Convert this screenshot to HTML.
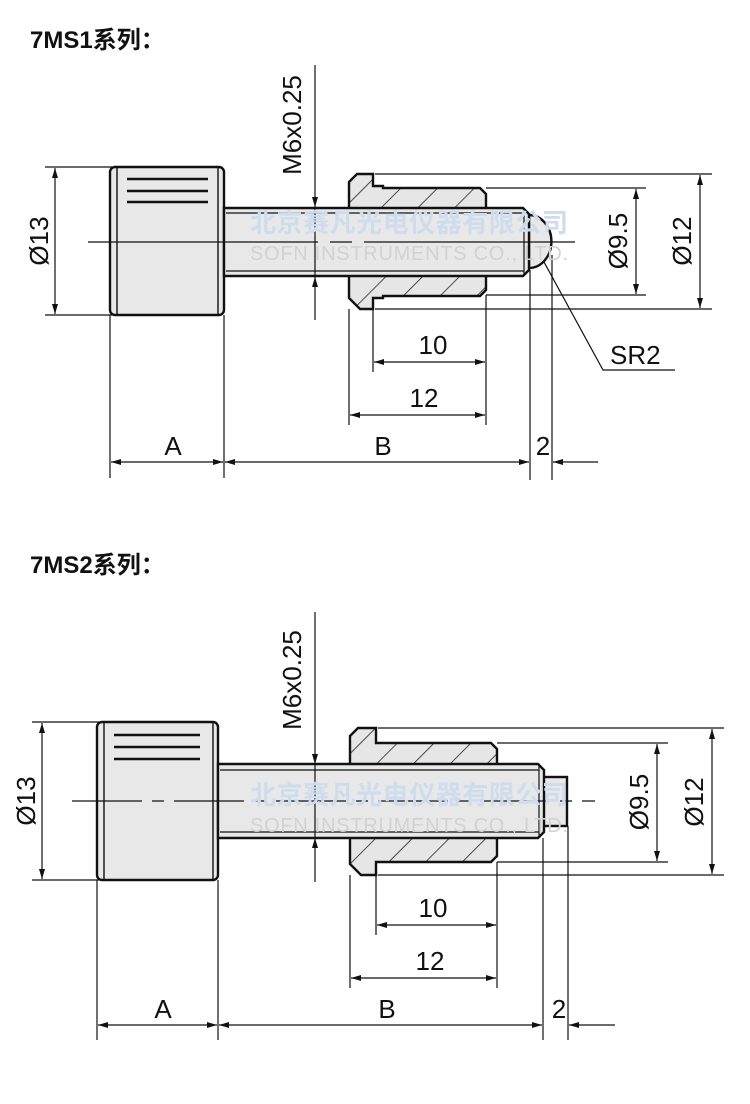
<!DOCTYPE html>
<html><head><meta charset="utf-8"><style>
html,body{margin:0;padding:0;background:#fff;}
svg{display:block;}
text{font-family:"Liberation Sans","Noto Sans CJK SC",sans-serif;fill:#111;}
</style></head><body>
<svg width="750" height="1104" viewBox="0 0 750 1104" xmlns="http://www.w3.org/2000/svg">
<defs>
<marker id="a" viewBox="0 0 10 6" refX="10" refY="3" markerWidth="11" markerHeight="6" orient="auto-start-reverse" markerUnits="userSpaceOnUse">
<path d="M0,0 L10,3 L0,6 Z" fill="#111"/></marker>
<pattern id="h" width="26" height="26" patternUnits="userSpaceOnUse" patternTransform="rotate(45)">
<rect width="26" height="26" fill="#e6e6e6"/><line x1="0" y1="0" x2="0" y2="26" stroke="#222" stroke-width="1.6"/></pattern>
</defs>

<text x="30" y="48" font-size="24" font-weight="bold">7MS1系列：</text>
<text x="30" y="573" font-size="24" font-weight="bold">7MS2系列：</text>

<!-- ===== Drawing 1 ===== -->
<g stroke="#111" fill="none" stroke-width="1.2">
<line x1="45" y1="167" x2="112" y2="167"/><line x1="45" y1="315" x2="112" y2="315"/>
<line x1="375" y1="174" x2="712" y2="174"/><line x1="375" y1="309" x2="712" y2="309"/>
<line x1="486" y1="188" x2="646" y2="188"/><line x1="486" y1="295" x2="646" y2="295"/>
<line x1="110" y1="315" x2="110" y2="478"/><line x1="224" y1="315" x2="224" y2="478"/>
<line x1="349" y1="309" x2="349" y2="425"/><line x1="373" y1="309" x2="373" y2="372"/>
<line x1="486" y1="295" x2="486" y2="425"/>
<line x1="530" y1="270" x2="530" y2="480"/><line x1="552" y1="255" x2="552" y2="480"/>
<line x1="55" y1="168" x2="55" y2="314" marker-start="url(#a)" marker-end="url(#a)"/>
<line x1="636" y1="189" x2="636" y2="294" marker-start="url(#a)" marker-end="url(#a)"/>
<line x1="700" y1="175" x2="700" y2="308" marker-start="url(#a)" marker-end="url(#a)"/>
<line x1="374" y1="362" x2="485" y2="362" marker-start="url(#a)" marker-end="url(#a)"/>
<line x1="350" y1="415" x2="485" y2="415" marker-start="url(#a)" marker-end="url(#a)"/>
<line x1="111" y1="462" x2="223" y2="462" marker-start="url(#a)" marker-end="url(#a)"/>
<line x1="225" y1="462" x2="529" y2="462" marker-start="url(#a)" marker-end="url(#a)"/>
<line x1="598" y1="462" x2="553" y2="462" marker-end="url(#a)"/>
<line x1="315" y1="65" x2="315" y2="207" marker-end="url(#a)"/>
<line x1="315" y1="320" x2="315" y2="277" marker-end="url(#a)"/>
<polyline points="532,240 603,370 675,370"/>
</g>
<g stroke="#111" stroke-width="2.4">
<rect x="110" y="167" width="114" height="148" rx="5" fill="#e8e8e8"/>
<line x1="117" y1="168" x2="117" y2="314" stroke-width="1.4"/><line x1="218" y1="168" x2="218" y2="314" stroke-width="1.4"/>
<line x1="127" y1="179" x2="208" y2="179"/><line x1="127" y1="191" x2="208" y2="191"/><line x1="127" y1="202" x2="208" y2="202"/>
<path d="M529,215 A22,26 0 0 1 529,268 Z" fill="#e8e8e8"/>
<path d="M357,174 L373,174 L373,186 L383,186 L383,188 L480,188 L486,194 L486,290 L480,296 L383,296 L383,298 L373,298 L373,309 L360,309 L349,298 L349,182 Z" fill="url(#h)"/>
<path d="M224,208 L523,208 L529,214 L529,270 L523,276 L224,276 Z" fill="#e8e8e8"/>
<line x1="226" y1="213" x2="524" y2="213" stroke-width="1.2"/><line x1="226" y1="271" x2="524" y2="271" stroke-width="1.2"/>
<line x1="524" y1="209" x2="524" y2="275" stroke-width="1.2"/>
</g>
<line x1="315" y1="207" x2="315" y2="277" stroke="#111" stroke-width="1.2"/>
<line x1="88" y1="242" x2="575" y2="242" stroke="#111" stroke-width="1.2" stroke-dasharray="230,12,22,12"/>
<text x="250" y="232" font-size="26" textLength="318" style="fill:#cfdcee" font-weight="bold">北京赛凡光电仪器有限公司</text>
<text x="250" y="260" font-size="20" textLength="318" style="fill:#d2d2d2">SOFN INSTRUMENTS CO., LTD.</text>

<g font-size="26">
<text transform="translate(48,241) rotate(-90)" text-anchor="middle">Ø13</text>
<text transform="translate(301,125) rotate(-90)" text-anchor="middle">M6x0.25</text>
<text transform="translate(627,241) rotate(-90)" text-anchor="middle">Ø9.5</text>
<text transform="translate(691,241) rotate(-90)" text-anchor="middle">Ø12</text>
<text x="433" y="354" text-anchor="middle">10</text>
<text x="424" y="407" text-anchor="middle">12</text>
<text x="173" y="455" text-anchor="middle">A</text>
<text x="383" y="455" text-anchor="middle">B</text>
<text x="543" y="455" text-anchor="middle">2</text>
<text x="610" y="364">SR2</text>
</g>

<!-- ===== Drawing 2 ===== -->
<g stroke="#111" fill="none" stroke-width="1.2">
<line x1="32" y1="722" x2="99" y2="722"/><line x1="32" y1="880" x2="99" y2="880"/>
<line x1="378" y1="728" x2="724" y2="728"/><line x1="378" y1="875" x2="724" y2="875"/>
<line x1="497" y1="743" x2="668" y2="743"/><line x1="497" y1="862" x2="668" y2="862"/>
<line x1="97" y1="880" x2="97" y2="1040"/><line x1="218" y1="880" x2="218" y2="1040"/>
<line x1="350" y1="875" x2="350" y2="988"/><line x1="376" y1="875" x2="376" y2="935"/>
<line x1="497" y1="862" x2="497" y2="988"/>
<line x1="543" y1="838" x2="543" y2="1040"/><line x1="568" y1="826" x2="568" y2="1040"/>
<line x1="42" y1="723" x2="42" y2="879" marker-start="url(#a)" marker-end="url(#a)"/>
<line x1="657" y1="744" x2="657" y2="861" marker-start="url(#a)" marker-end="url(#a)"/>
<line x1="712" y1="729" x2="712" y2="874" marker-start="url(#a)" marker-end="url(#a)"/>
<line x1="377" y1="925" x2="496" y2="925" marker-start="url(#a)" marker-end="url(#a)"/>
<line x1="351" y1="978" x2="496" y2="978" marker-start="url(#a)" marker-end="url(#a)"/>
<line x1="98" y1="1025" x2="217" y2="1025" marker-start="url(#a)" marker-end="url(#a)"/>
<line x1="219" y1="1025" x2="542" y2="1025" marker-start="url(#a)" marker-end="url(#a)"/>
<line x1="615" y1="1025" x2="569" y2="1025" marker-end="url(#a)"/>
<line x1="315" y1="612" x2="315" y2="764" marker-end="url(#a)"/>
<line x1="315" y1="882" x2="315" y2="838" marker-end="url(#a)"/>
</g>
<g stroke="#111" stroke-width="2.4">
<rect x="97" y="722" width="121" height="158" rx="5" fill="#e8e8e8"/>
<line x1="104" y1="723" x2="104" y2="879" stroke-width="1.4"/><line x1="213" y1="723" x2="213" y2="879" stroke-width="1.4"/>
<line x1="114" y1="735" x2="200" y2="735"/><line x1="114" y1="747" x2="200" y2="747"/><line x1="114" y1="759" x2="200" y2="759"/>
<rect x="543" y="777" width="24" height="49" fill="#e8e8e8"/>
<path d="M358,728 L376,728 L376,743 L387,743 L491,743 L497,749 L497,856 L491,862 L387,862 L376,862 L376,875 L361,875 L350,864 L350,736 Z" fill="url(#h)"/>
<path d="M218,764 L538,764 L544,770 L544,832 L538,838 L218,838 Z" fill="#e8e8e8"/>
<line x1="220" y1="770" x2="539" y2="770" stroke-width="1.2"/><line x1="220" y1="832" x2="539" y2="832" stroke-width="1.2"/>
<line x1="539" y1="765" x2="539" y2="837" stroke-width="1.2"/>
</g>
<line x1="315" y1="764" x2="315" y2="838" stroke="#111" stroke-width="1.2"/>
<line x1="72" y1="801" x2="595" y2="801" stroke="#111" stroke-width="1.2" stroke-dasharray="70,10,12,10"/>
<text x="250" y="804" font-size="26" textLength="318" style="fill:#cfdcee" font-weight="bold">北京赛凡光电仪器有限公司</text>
<text x="250" y="832" font-size="20" textLength="318" style="fill:#d2d2d2">SOFN INSTRUMENTS CO., LTD.</text>
<g font-size="26">
<text transform="translate(35,801) rotate(-90)" text-anchor="middle">Ø13</text>
<text transform="translate(301,680) rotate(-90)" text-anchor="middle">M6x0.25</text>
<text transform="translate(648,802) rotate(-90)" text-anchor="middle">Ø9.5</text>
<text transform="translate(703,802) rotate(-90)" text-anchor="middle">Ø12</text>
<text x="433" y="917" text-anchor="middle">10</text>
<text x="430" y="970" text-anchor="middle">12</text>
<text x="163" y="1018" text-anchor="middle">A</text>
<text x="387" y="1018" text-anchor="middle">B</text>
<text x="559" y="1018" text-anchor="middle">2</text>
</g>
</svg>
</body></html>
